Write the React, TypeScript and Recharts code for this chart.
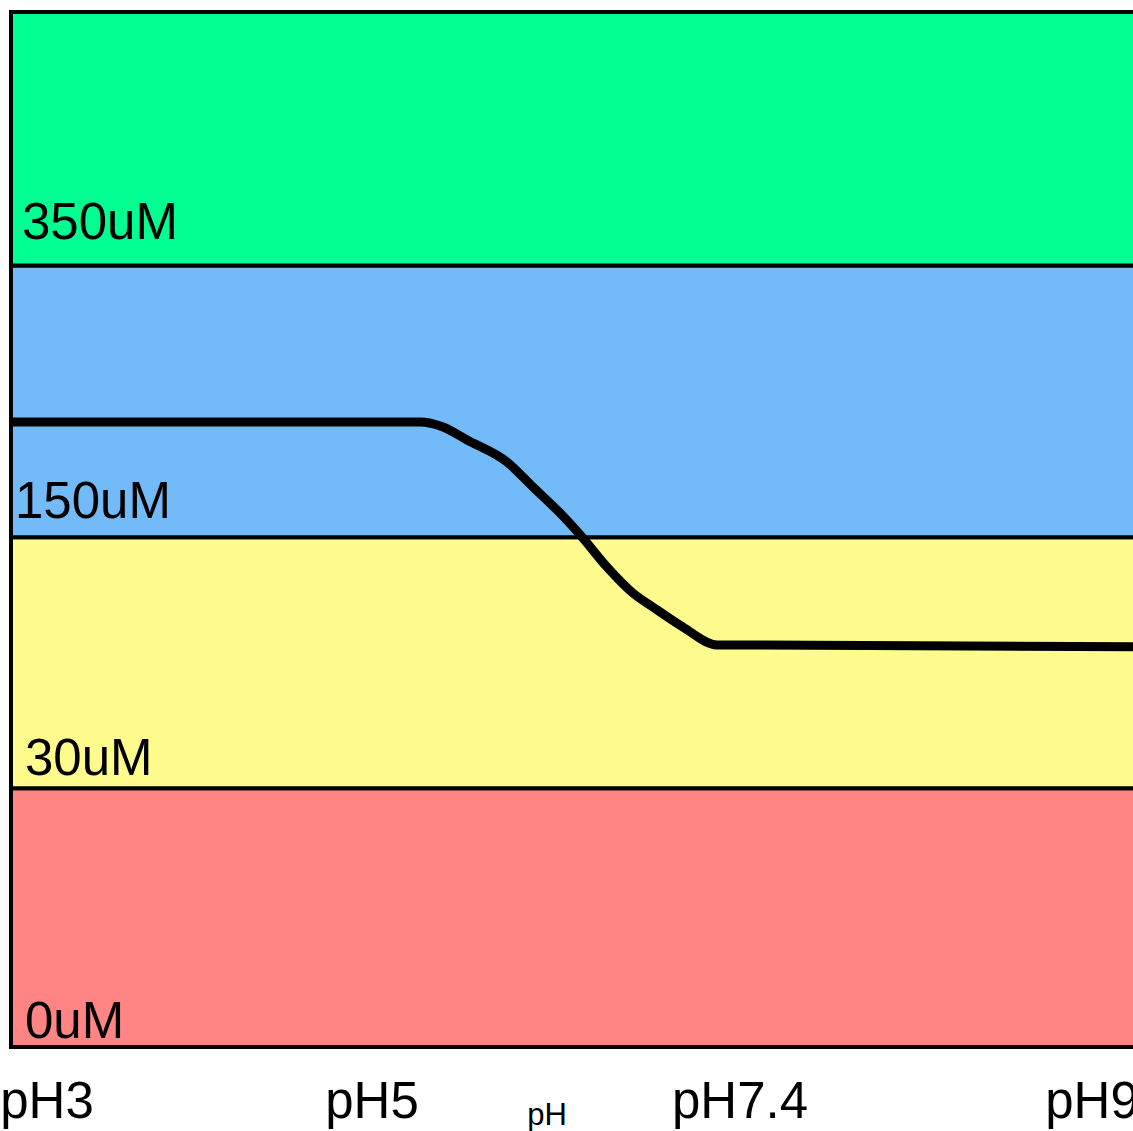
import { LineChart, Line, XAxis, YAxis, ReferenceArea } from "recharts";

// band edges on the concentration axis (bottom to top) and their labels
const bandEdges = [0, 1.0, 1.97, 3.02, 4];
const bandLabels = ["0uM", "30uM", "150uM", "350uM"];
const bandColors = ["#FF8585", "#FFFB8C", "#73BAF9", "#00FF90"];

// x position of each pH tick label
const tickPositions = [3.6, 36.1, 72.9, 108.1];
const tickLabels = ["pH3", "pH5", "pH7.4", "pH9"];

// the curve
const curveX = [0, 38.9, 40.9, 43.2, 45.6, 49.6, 52.2, 54.9, 57.1, 59.6, 62.2, 64.2, 67.2, 70.6, 114.7];
const curveY = [2.415, 2.415, 2.415, 2.396, 2.346, 2.261, 2.164, 2.064, 1.971, 1.855, 1.754, 1.7, 1.623, 1.554, 1.546];

const data = curveX.map((x, i) => ({ x, y: curveY[i] }));

// small per-band nudges of the label text (px)
const labelNudge = [
  { dx: 14, up: 9 },
  { dx: 14, up: 13 },
  { dx: 4, up: 19 },
  { dx: 11, up: 27 },
];

const font = "'Liberation Sans', Arial, sans-serif";

const PhTick = (props: any) => {
  const { x, y, payload } = props;
  const idx = tickPositions.indexOf(payload.value);
  return (
    <text x={x} y={y + 63} textAnchor="middle" fontFamily={font} fontSize={51} fill="#000">
      {tickLabels[idx]}
    </text>
  );
};

export default function App() {
  return (
    <div style={{ position: "fixed", left: 0, top: 0, width: 1133, height: 1131, overflow: "hidden", background: "#fff" }}>
      <LineChart width={1158} height={1131} data={data} margin={{ top: 12, right: 0, left: 11, bottom: 0 }}>
        <XAxis
          type="number"
          dataKey="x"
          domain={[0, 114.7]}
          ticks={tickPositions}
          interval={0}
          axisLine={false}
          tickLine={false}
          height={84}
          tick={<PhTick />}
          label={(p: any) => {
            const vb = p.viewBox;
            return (
              <text x={vb.x + 536} y={vb.y + 78} textAnchor="middle" fontFamily={font} fontSize={31} fill="#000">
                pH
              </text>
            );
          }}
        />
        <YAxis type="number" domain={[0, 4]} hide />
        {bandLabels.map((lab, i) => (
          <ReferenceArea
            key={lab}
            y1={bandEdges[i]}
            y2={bandEdges[i + 1]}
            x1={0}
            x2={114.7}
            fill={bandColors[i]}
            fillOpacity={1}
            stroke="#000"
            strokeWidth={4}
            label={(p: any) => {
              const vb = p.viewBox;
              return (
                <text
                  x={vb.x + labelNudge[i].dx}
                  y={vb.y + vb.height - labelNudge[i].up}
                  fontFamily={font}
                  fontSize={51}
                  fill="#000"
                >
                  {lab}
                </text>
              );
            }}
          />
        ))}
        <Line
          type="monotone"
          dataKey="y"
          stroke="#000"
          strokeWidth={9}
          dot={false}
          strokeLinejoin="round"
          isAnimationActive={false}
        />
      </LineChart>
    </div>
  );
}
